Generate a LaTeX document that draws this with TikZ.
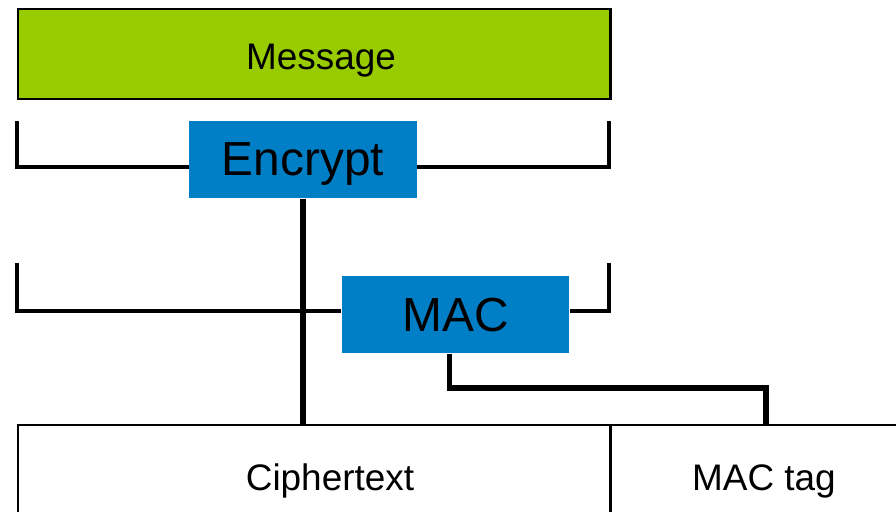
\documentclass[tikz,border=0pt]{standalone}
\usepackage{fontspec}
\setmainfont{Liberation Sans}
\usetikzlibrary{calc,positioning}

\definecolor{msggreen}{RGB}{153,204,0}
\definecolor{opblue}{RGB}{0,127,198}

\tikzset{
  field/.style={draw=black, line width=0.65pt, rectangle, inner sep=0pt, anchor=north west},
  op/.style={fill=opblue, rectangle, inner sep=0pt, minimum width=2.27cm, minimum height=0.77cm,
    text depth=0pt, font=\fontsize{13.6}{16}\selectfont},
  lbl/.style={anchor=base, inner sep=0pt, font=\fontsize{10.5}{12}\selectfont},
  bracket/.style={line width=1pt},
  flow/.style={line width=1.65pt}
}

\begin{document}
\begin{tikzpicture}[x=0.01cm, y=-0.01cm]
  \useasboundingbox (0,0) rectangle (896,512);
  \clip (0,0) rectangle (896,512);

  % message on top
  \node[field, fill=msggreen, minimum width=5.92cm, minimum height=0.9cm] (msg) at (17,8) {};
  \node[lbl] (msgtxt) at (321,69) {Message};

  % the two operations
  \node[op] (enc) at (303,159.5) {Encrypt};
  \node[op] (mac) at (455.5,314.5) {MAC};

  % output fields, running off the bottom
  \node[field, minimum width=5.92cm, minimum height=1.2cm] (cipher) at (17,424) {};
  \node[field, minimum width=3.2cm, minimum height=1.2cm] (tag) at (609,424) {};
  \node[lbl] (ciphertxt) at (330,490) {Ciphertext};
  \node[lbl] (tagtxt) at (764,490) {MAC tag};

  % brackets spanning the message
  \coordinate (encL) at (17,167);
  \coordinate (encR) at (609,167);
  \coordinate (macL) at (17,311);
  \coordinate (macR) at (609,311);
  \draw[bracket] (17,121) -- (encL) -- (enc.west |- encL);
  \draw[bracket] (enc.east |- encR) -- (encR) -- (609,121);
  \draw[bracket] (17,263) -- (macL) -- (mac.west |- macL);
  \draw[bracket] (mac.east |- macR) -- (macR) -- (609,263);

  % data flow
  \draw[flow] (enc.south) -- (enc.south |- cipher.north);
  \coordinate (macout) at ($(mac.south)+(-6,0)$);
  \coordinate (bend) at (766,388);
  \draw[flow] (macout) |- (bend) -- (bend |- tag.north);
\end{tikzpicture}
\end{document}
